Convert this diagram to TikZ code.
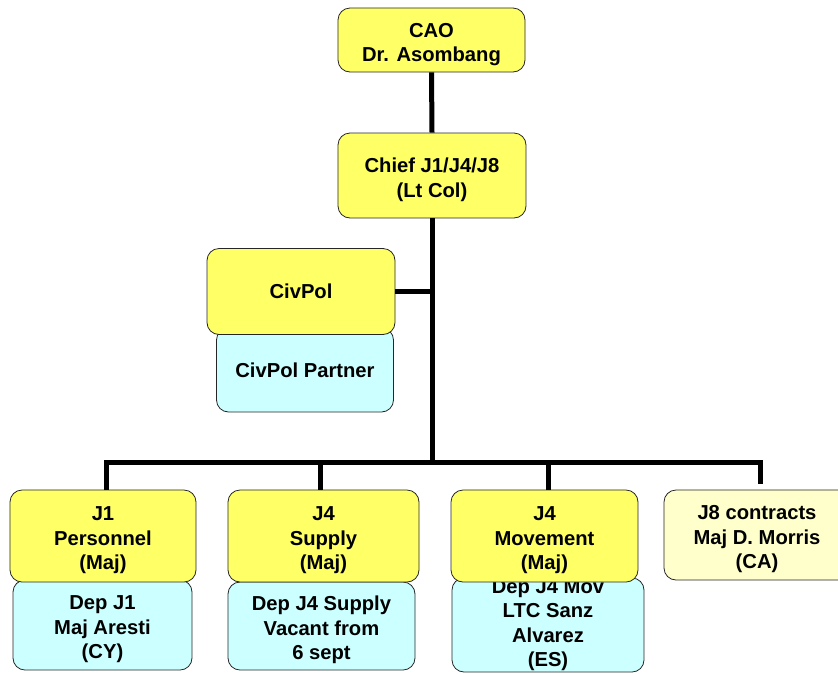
\documentclass[tikz,border=0pt]{standalone}
\usepackage{fontspec}
\setmainfont{Liberation Sans}
% tall strut on the first line pushes multi-line labels down a little
\newcommand\lowerby{\rule{0pt}{23pt}}
\begin{document}
\begin{tikzpicture}[x=1pt,y=-1pt,
  box/.style={draw=black!85, line width=0.8pt, rounded corners=12pt,
    align=center, inner sep=0pt,
    font=\fontsize{20.2}{24.5}\selectfont\bfseries},
  rank/.style={box, fill=yellow1},
  deputy/.style={box, fill=cyan1},
  outside/.style={box, fill=paleyellow},
  conn/.style={line width=5pt, draw=black}]
\definecolor{yellow1}{HTML}{FFFF66}
\definecolor{cyan1}{HTML}{CCFFFF}
\definecolor{paleyellow}{HTML}{FFFFCC}
\useasboundingbox (0,0) rectangle (838,673);

% top of the chain
\node[rank, minimum width=187pt, minimum height=64pt] (cao) at (431.5,40) {\lowerby CAO\\Dr. Asombang};
\node[rank, minimum width=188pt, minimum height=85pt] (chief) at (432,175.5) {\lowerby Chief J1/J4/J8\\(Lt Col)};

% CivPol with its partner tucked underneath
\node[deputy, minimum width=177pt, minimum height=84pt] (civpart) at (305,370) {CivPol Partner};
\node[rank, minimum width=188pt, minimum height=86pt] (civpol) at (301,291.5) {CivPol};

% section deputies (drawn first, heads overlap them)
\node[deputy, minimum width=179pt, minimum height=90pt] (dj1) at (102.5,625) {\lowerby Dep J1\\Maj Aresti\\(CY)};
\node[deputy, minimum width=187pt, minimum height=88pt] (dj4s) at (321.5,626) {\lowerby Dep J4 Supply\\Vacant from\\6 sept};
\node[deputy, minimum width=192pt, minimum height=94pt] (dj4m) at (548,625) {Dep J4 Mov\\LTC Sanz\\Alvarez\\(ES)};

% section heads
\node[rank, minimum width=186pt, minimum height=92pt] (j1) at (103,536) {\lowerby J1\\Personnel\\(Maj)};
\node[rank, minimum width=191pt, minimum height=92pt] (j4s) at (323.5,536) {\lowerby J4\\Supply\\(Maj)};
\node[rank, minimum width=187pt, minimum height=92pt] (j4m) at (544.5,536) {\lowerby J4\\Movement\\(Maj)};
\node[outside, minimum width=186pt, minimum height=90pt] (j8) at (757,535) {\lowerby J8 contracts\\Maj D. Morris\\(CA)};

% connectors
\coordinate (bus) at (432,462);
\coordinate (j8stub) at (760,484);
\draw[conn] (cao.south) -- (chief.north);
\draw[conn] (chief.south) -- (bus);
\draw[conn] (civpol.east) -- (civpol.east -| chief.south);
\draw[conn] ([xshift=3pt]j1.north) |- (bus) -| (j8stub);
\draw[conn] ([xshift=-3.5pt]j4s.north) -- ([xshift=-3.5pt]j4s.north |- bus);
\draw[conn] ([xshift=3.5pt]j4m.north) -- ([xshift=3.5pt]j4m.north |- bus);
\end{tikzpicture}
\end{document}
